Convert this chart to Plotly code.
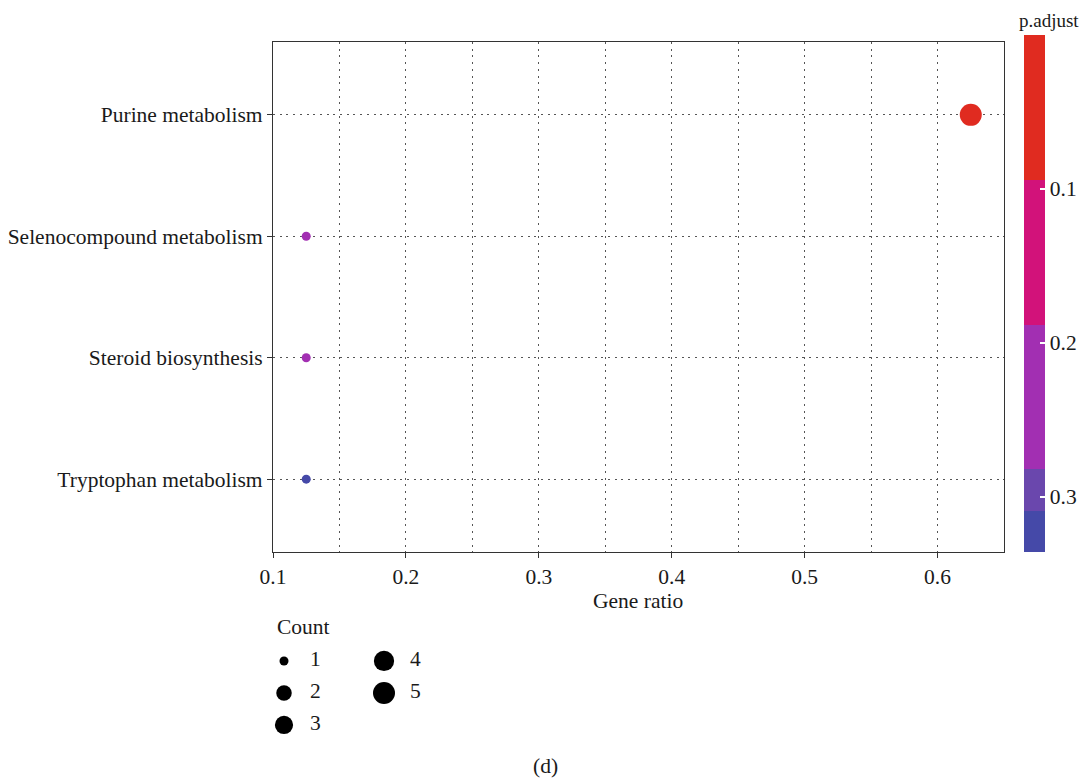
import plotly.graph_objects as go
import numpy as np

# ---- data ----
pathways = ["Purine metabolism", "Selenocompound metabolism", "Steroid biosynthesis", "Tryptophan metabolism"]
gene_ratio = [0.625, 0.125, 0.125, 0.125]
counts = [5, 1, 1, 1]
p_adjust = [0.002, 0.245, 0.245, 0.336]
legend_counts = [1, 2, 3, 4, 5]
x_ticks = [0.1, 0.2, 0.3, 0.4, 0.5, 0.6]
cbar_ticks = [0.1, 0.2, 0.3]

# page body has an 8px margin; figure is sized so the page is 1089x778
OFF = 8
W, H = 1089 - OFF, 778 - OFF
FONT = "Liberation Serif"
FS = 21.5
TXT = "#1a1a1a"
MIN_D, MAX_D = 9, 22
cmin_p, cmax_p = 0.0, 0.336


def px(X):
    return (X - OFF) / W


def py(Y):
    return 1 - (Y - OFF) / H


def diam(c):
    lo, hi = min(legend_counts), max(legend_counts)
    return MIN_D + (MAX_D - MIN_D) * np.sqrt((c - lo) / (hi - lo))


# stepped colorscale (bottom = large p, top = small p)
colorscale = [
    [0.0, "#4549A8"], [0.080, "#4549A8"],
    [0.080, "#6A47AD"], [0.161, "#6A47AD"],
    [0.161, "#A22FB2"], [0.440, "#A22FB2"],
    [0.440, "#D2127A"], [0.720, "#D2127A"],
    [0.720, "#E02B20"], [1.0, "#E02B20"],
]

fig = go.Figure()

ypos = {p: len(pathways) - i for i, p in enumerate(pathways)}

fig.add_trace(go.Scatter(
    x=gene_ratio,
    y=[ypos[p] for p in pathways],
    mode="markers",
    marker=dict(
        size=[diam(c) for c in counts],
        color=[-p for p in p_adjust],
        colorscale=colorscale,
        cmin=-cmax_p, cmax=-cmin_p,
        line=dict(width=0),
        opacity=1,
        colorbar=dict(
            x=px(1024), xanchor="left", xpad=0,
            y=py(552), yanchor="bottom", ypad=0,
            len=517, lenmode="pixels",
            thickness=21, thicknessmode="pixels",
            outlinewidth=0,
            tickmode="array",
            tickvals=[-t for t in cbar_ticks],
            ticktext=[str(t) for t in cbar_ticks],
            ticks="inside", ticklen=5, tickcolor="white", tickwidth=1.5,
            tickfont=dict(family=FONT, size=FS, color=TXT),
        ),
    ),
    showlegend=False,
    hoverinfo="skip",
))

# size legend drawn on an auxiliary axis (ggplot-like two-column key)
cols = [i // 3 for i in range(len(legend_counts))]
rows = [i % 3 for i in range(len(legend_counts))]
fig.add_trace(go.Scatter(
    x=cols, y=rows, mode="markers",
    marker=dict(size=[diam(c) for c in legend_counts], color="#000000", opacity=1, line=dict(width=0)),
    xaxis="x2", yaxis="y2", showlegend=False, hoverinfo="skip",
))
fig.add_trace(go.Scatter(
    x=[c + 0.26 for c in cols], y=rows, mode="text",
    text=[str(c) for c in legend_counts], textposition="middle right",
    textfont=dict(family=FONT, size=FS, color=TXT),
    xaxis="x2", yaxis="y2", showlegend=False, hoverinfo="skip",
))

DOT = "2px,4.7px"
grid = dict(showgrid=True, gridcolor="#555555", griddash=DOT, gridwidth=1)

fig.update_layout(
    width=W, height=H,
    margin=dict(l=0, r=0, t=0, b=0, autoexpand=False),
    paper_bgcolor="white", plot_bgcolor="white",
    font=dict(family=FONT, size=FS, color=TXT),
    xaxis=dict(
        domain=[px(273), px(1004)],
        range=[0.1, 0.65],
        automargin=False,
        tickmode="array", tickvals=x_ticks, ticktext=[str(t) for t in x_ticks],
        ticks="outside", ticklen=5, tickcolor="#333333",
        tickfont=dict(family=FONT, size=FS, color=TXT),
        showline=True, linecolor="#333333", linewidth=1.2, mirror=True,
        zeroline=False,
        minor=dict(dtick=0.05, tick0=0.1, showgrid=True, gridcolor="#555555", griddash=DOT, ticks=""),
        **grid,
    ),
    yaxis=dict(
        domain=[py(552), py(42)],
        range=[0.4, len(pathways) + 0.6],
        automargin=False,
        tickmode="array",
        tickvals=[ypos[p] for p in pathways],
        ticktext=pathways,
        ticks="outside", ticklen=5, tickcolor="#333333",
        tickfont=dict(family=FONT, size=FS, color=TXT),
        showline=True, linecolor="#333333", linewidth=1.2, mirror=True,
        zeroline=False,
        **grid,
    ),
    xaxis2=dict(domain=[px(270), px(470)], range=[-0.14, 1.86], visible=False, fixedrange=True),
    yaxis2=dict(domain=[py(740), py(645)], range=[2.47, -0.5], visible=False, fixedrange=True),
    annotations=[
        dict(text="Gene ratio", x=px(638), y=py(601), xref="paper", yref="paper",
             showarrow=False, font=dict(family=FONT, size=FS, color=TXT), xanchor="center", yanchor="middle"),
        dict(text="p.adjust", x=px(1049), y=py(20), xref="paper", yref="paper",
             showarrow=False, font=dict(family=FONT, size=19, color=TXT), xanchor="center", yanchor="middle"),
        dict(text="Count", x=px(275), y=py(627), xref="paper", yref="paper",
             showarrow=False, font=dict(family=FONT, size=FS, color=TXT), xanchor="left", yanchor="middle"),
        dict(text="(d)", x=px(545), y=py(766), xref="paper", yref="paper",
             showarrow=False, font=dict(family=FONT, size=FS, color=TXT), xanchor="center", yanchor="middle"),
    ],
)

fig.write_html("out.html")
